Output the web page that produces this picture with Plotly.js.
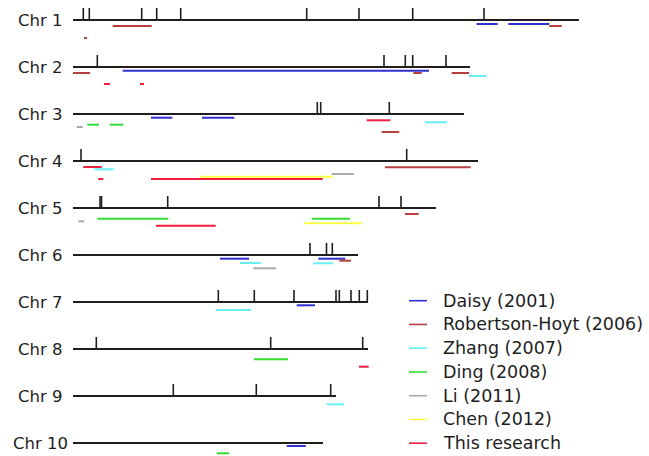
<!DOCTYPE html>
<html>
<head>
<meta charset="utf-8">
<script src="https://cdn.plot.ly/plotly-3.0.1.min.js"></script>
<style>html,body{margin:0;padding:0;background:#fff;}#chart{width:649px;height:456px;}</style>
</head>
<body>
<div id="chart"></div>
<script>
// ---------- DATA ----------
const chrNames = ["Chr 1","Chr 2","Chr 3","Chr 4","Chr 5","Chr 6","Chr 7","Chr 8","Chr 9","Chr 10"];
const chrLength = [506, 397, 391, 405, 363, 285, 295, 295, 263, 250];
const markerPos = [
  [10.3, 16.3, 68.7, 83.7, 107.7, 233.7, 286, 339.7, 411],
  [24.3, 311, 332.3, 339.7, 373],
  [244.3, 247.7, 316.3],
  [8, 333.7],
  [27, 28.5, 94.7, 306, 328],
  [237, 253.5, 259.3],
  [145.3, 181.3, 221, 263, 266.3, 278, 286.3, 294.3],
  [23.3, 197.7, 289.7],
  [100.3, 183.3, 257.7],
  []
];
const studies = ["Daisy (2001)","Robertson-Hoyt (2006)","Zhang (2007)","Ding (2008)","Li (2011)","Chen (2012)","This research"];
// QTL segments: chromosome, start, end, study index, track (offset below chromosome)
const segChr   = [1,1,1,1,1, 2,2,2,2,2,2,2, 3,3,3,3,3,3,3,3, 4,4,4,4,4,4,4, 5,5,5,5,5,5, 6,6,6,6,6,6, 7,7, 8,8, 9, 10,10];
const segStart = [39.7,11,403.7,435.3,476.3, 0,49.7,340.3,378.7,396,31,67, 3.7,14.3,37,78,129,293.7,308.7,352, 10.3,21.3,25.3,127,78,258.7,312, 5.3,24.3,83,238.7,231,332, 147,167,180.3,245.3,240.3,266.3, 143,223.7, 181,286, 253.7, 213.7,143.7];
const segEnd   = [78.7,14,424.7,476.3,488.7, 17,356,348.7,396,413,37,71, 9.7,26,50.3,99.3,161.3,317.3,326.3,374, 28.7,40.7,30.3,260.3,249.7,280.7,397.7, 11.3,95.3,142.7,277,289,345.7, 176,187.7,203,272.3,260.3,278, 178,242, 215,295.7, 271.3, 232.7,156.3];
const segStudy = [1,1,0,0,1, 1,0,1,1,2,6,6, 4,3,3,0,0,6,1,2, 6,2,6,5,6,4,1, 4,3,6,3,5,1, 0,2,4,0,2,1, 2,0, 3,6, 2, 0,3];
const segTrack = [6,18,4,4,6, 6,3.7,6,6,9,17,17, 13,10.7,10.7,3.7,3.7,6.3,18,8.3, 6,8.3,18,15.7,18,13,6.3, 13.3,10.7,17.7,10.7,15.3,6, 3.7,8,13.3,3.7,8.3,5.7, 8,3.3, 10.3,17.7, 8.3, 3,10.3];

// ---------- STYLE / LAYOUT ----------
const studyColors = ["#2f2fcf","#b5403f","#66f0f5","#33dd33","#aaaaaa","#ffff44","#ee1f3c"];
const rowTop = 20, rowGap = 47, tickH = 12;
const rowY = i => rowTop + i * rowGap;
const W = 649, H = 456, X0 = 73;
const fontFam = "DejaVu Sans, Arial, sans-serif";

const traces = [];
// chromosome lines
{
  const x = [], y = [];
  chrLength.forEach((len, i) => { x.push(0, len, null); y.push(rowY(i), rowY(i), null); });
  traces.push({x, y, mode: "lines", line: {color: "#1e1e1e", width: 2}, hoverinfo: "skip", showlegend: false});
}
// markers (vertical ticks)
{
  const x = [], y = [];
  markerPos.forEach((arr, i) => arr.forEach(p => { x.push(p, p, null); y.push(rowY(i) - tickH, rowY(i), null); }));
  traces.push({x, y, mode: "lines", line: {color: "#1e1e1e", width: 1.6}, hoverinfo: "skip", showlegend: false});
}
// QTL segments per study
studies.forEach((name, s) => {
  const x = [], y = [];
  segChr.forEach((c, k) => {
    if (segStudy[k] !== s) return;
    const yy = rowY(c - 1) + segTrack[k];
    x.push(segStart[k], segEnd[k], null); y.push(yy, yy, null);
  });
  traces.push({x, y, mode: "lines", name, line: {color: studyColors[s], width: 2}, showlegend: false});
});

const labelCenter = 40 - X0;
const annotations = chrNames.map((t, i) => ({
  x: labelCenter, y: rowY(i), xref: "x", yref: "y", text: t, showarrow: false,
  xanchor: "center", yanchor: "middle", font: {family: fontFam, size: 16.5, color: "#1e1e1e"}
}));
const shapes = [];
const legX0 = 409 - X0, legX1 = 427 - X0, legTX = 441 - X0, legY0 = 300.7, legStep = 23.75;
studies.forEach((name, s) => {
  const yy = legY0 + s * legStep;
  shapes.push({type: "line", xref: "x", yref: "y", x0: legX0, x1: legX1, y0: yy, y1: yy, line: {color: studyColors[s], width: 1.6}});
  annotations.push({x: legTX, y: yy, xref: "x", yref: "y", text: name, showarrow: false,
    xanchor: "left", yanchor: "middle", font: {family: fontFam, size: 17.5, color: "#1e1e1e"}});
});

const layout = {
  width: W, height: H, margin: {l: 0, r: 0, t: 0, b: 0},
  paper_bgcolor: "#fff", plot_bgcolor: "#fff",
  xaxis: {range: [-X0, W - X0], visible: false, fixedrange: true},
  yaxis: {range: [H, 0], visible: false, fixedrange: true},
  showlegend: false, annotations, shapes
};
Plotly.newPlot("chart", traces, layout, {displayModeBar: false, staticPlot: true});
</script>
</body>
</html>
